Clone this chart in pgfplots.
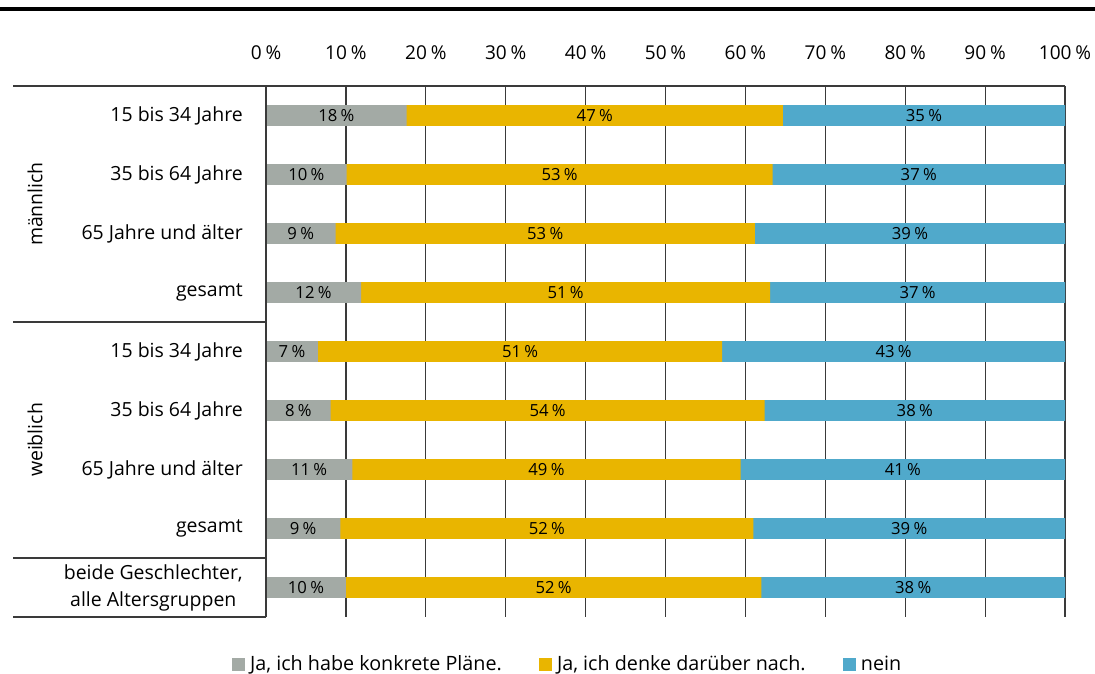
\documentclass[border=0pt]{standalone}
\usepackage{fontspec}
\setmainfont{Open Sans}
\usepackage{pgfplots}
\usepackage{pgfplotstable}
\pgfplotsset{compat=1.18}
\definecolor{cgray}{HTML}{A3AAA5}
\definecolor{cyellow}{HTML}{E9B500}
\definecolor{cblue}{HTML}{50A9CB}
\definecolor{cgrid}{HTML}{3A3A3A}
\definecolor{ctext}{HTML}{1A1A1A}
\newcommand{\pc}{\hspace{0.2em}\%}

\pgfplotstableread{
y a b c la lb lc
0 17.6 47.1 35.3 18 47 35
1 10.1 53.3 36.6 10 53 37
2 8.7 52.5 38.8 9 53 39
3 11.9 51.2 36.9 12 51 37
4 6.5 50.6 42.9 7 51 43
5 8.1 54.3 37.6 8 54 38
6 10.8 48.6 40.6 11 49 41
7 9.3 51.7 39.0 9 52 39
8 10.0 52.0 38.0 10 52 38
}\data

\begin{document}
\begin{tikzpicture}[font=\color{ctext}]
\useasboundingbox (0,0) rectangle (821.25pt,505.5pt);
\draw[line width=3pt, black] (0,498.75pt) -- (821.25pt,498.75pt);
\begin{axis}[
  at={(199.5pt,42.75pt)}, anchor=south west,
  scale only axis, width=599.25pt, height=398.25pt,
  xmin=0, xmax=100, ymin=-0.5, ymax=8.5, y dir=reverse,
  clip=false,
  axis line style={draw=none},
  xtick={0,10,...,100},
  xticklabels={0\pc,10\pc,20\pc,30\pc,40\pc,50\pc,60\pc,70\pc,80\pc,90\pc,100\pc},
  xticklabel pos=upper,
  xticklabel style={anchor=base, inner sep=0pt, yshift=20.25pt, font=\fontsize{14.3}{16}\selectfont},
  ytick={0,...,8},
  yticklabels={15 bis 34 Jahre, 35 bis 64 Jahre, 65 Jahre und älter, gesamt, 15 bis 34 Jahre, 35 bis 64 Jahre, 65 Jahre und älter, gesamt, {beide Geschlechter,\\alle Altersgruppen}},
  yticklabel style={anchor=east, align=center, inner sep=0pt, xshift=-17.25pt, font=\fontsize{14.6}{20.25}\selectfont},
  major tick length=0pt,
  xmajorgrids,
  major grid style={cgrid, line width=0.9pt},
  legend style={at={(-0.0426,-0.0885)}, anchor=west, draw=none, fill=none, inner sep=0pt,
    legend columns=3, font=\fontsize{14.8}{17}\selectfont,
    /tikz/every odd column/.append style={column sep=2pt},
    /tikz/every even column/.append style={column sep=26pt}},
  legend cell align=left,
]
\addplot[xbar, bar width=15.5pt, bar shift=0pt, fill=cblue, draw=none, forget plot]
  table[x expr=\thisrow{a}+\thisrow{b}+\thisrow{c}, y=y]{\data};
\addplot[xbar, bar width=15.5pt, bar shift=0pt, fill=cyellow, draw=none, forget plot]
  table[x expr=\thisrow{a}+\thisrow{b}, y=y]{\data};
\addplot[xbar, bar width=15.5pt, bar shift=0pt, fill=cgray, draw=none, forget plot]
  table[x=a, y=y]{\data};

\pgfplotsset{lbl/.style={draw=none, mark=none, forget plot, nodes near coords={\pgfplotspointmeta\pc},
  point meta=explicit symbolic,
  every node near coord/.append style={anchor=center, inner sep=0pt, font=\fontsize{12.5}{13}\selectfont}}}
\addplot[lbl] table[x expr=\thisrow{a}/2, y=y, meta=la]{\data};
\addplot[lbl] table[x expr=\thisrow{a}+\thisrow{b}/2, y=y, meta=lb]{\data};
\addplot[lbl] table[x expr=\thisrow{a}+\thisrow{b}+\thisrow{c}/2, y=y, meta=lc]{\data};

\addlegendimage{legend image code/.code={\fill[cgray] (0pt,-4.5pt) rectangle (9pt,4.5pt);}}
\addlegendentry{Ja, ich habe konkrete Pläne.}
\addlegendimage{legend image code/.code={\fill[cyellow] (0pt,-4.5pt) rectangle (9pt,4.5pt);}}
\addlegendentry{Ja, ich denke darüber nach.}
\addlegendimage{legend image code/.code={\fill[cblue] (0pt,-4.5pt) rectangle (9pt,4.5pt);}}
\addlegendentry{nein}

\draw[cgrid, line width=0.9pt] (axis cs:0,-0.5) -- (axis cs:100,-0.5);
\draw[cgrid, line width=0.9pt] (axis cs:0,-0.5) -- (axis cs:0,8.5);
\draw[cgrid, line width=0.9pt] (axis cs:0,-0.5) -- ++(-189.75pt,0pt);
\draw[cgrid, line width=0.9pt] (axis cs:0,3.5) -- ++(-189.75pt,0pt);
\draw[cgrid, line width=0.9pt] (axis cs:0,7.5) -- ++(-189.75pt,0pt);
\draw[cgrid, line width=0.9pt] (axis cs:0,8.5) -- ++(-189.75pt,0pt);
\node[rotate=90, font=\fontsize{14.6}{17}\selectfont] at ([xshift=-173.25pt]axis cs:0,1.5) {männlich};
\node[rotate=90, font=\fontsize{14.6}{17}\selectfont] at ([xshift=-173.25pt]axis cs:0,5.5) {weiblich};
\end{axis}
\end{tikzpicture}
\end{document}
